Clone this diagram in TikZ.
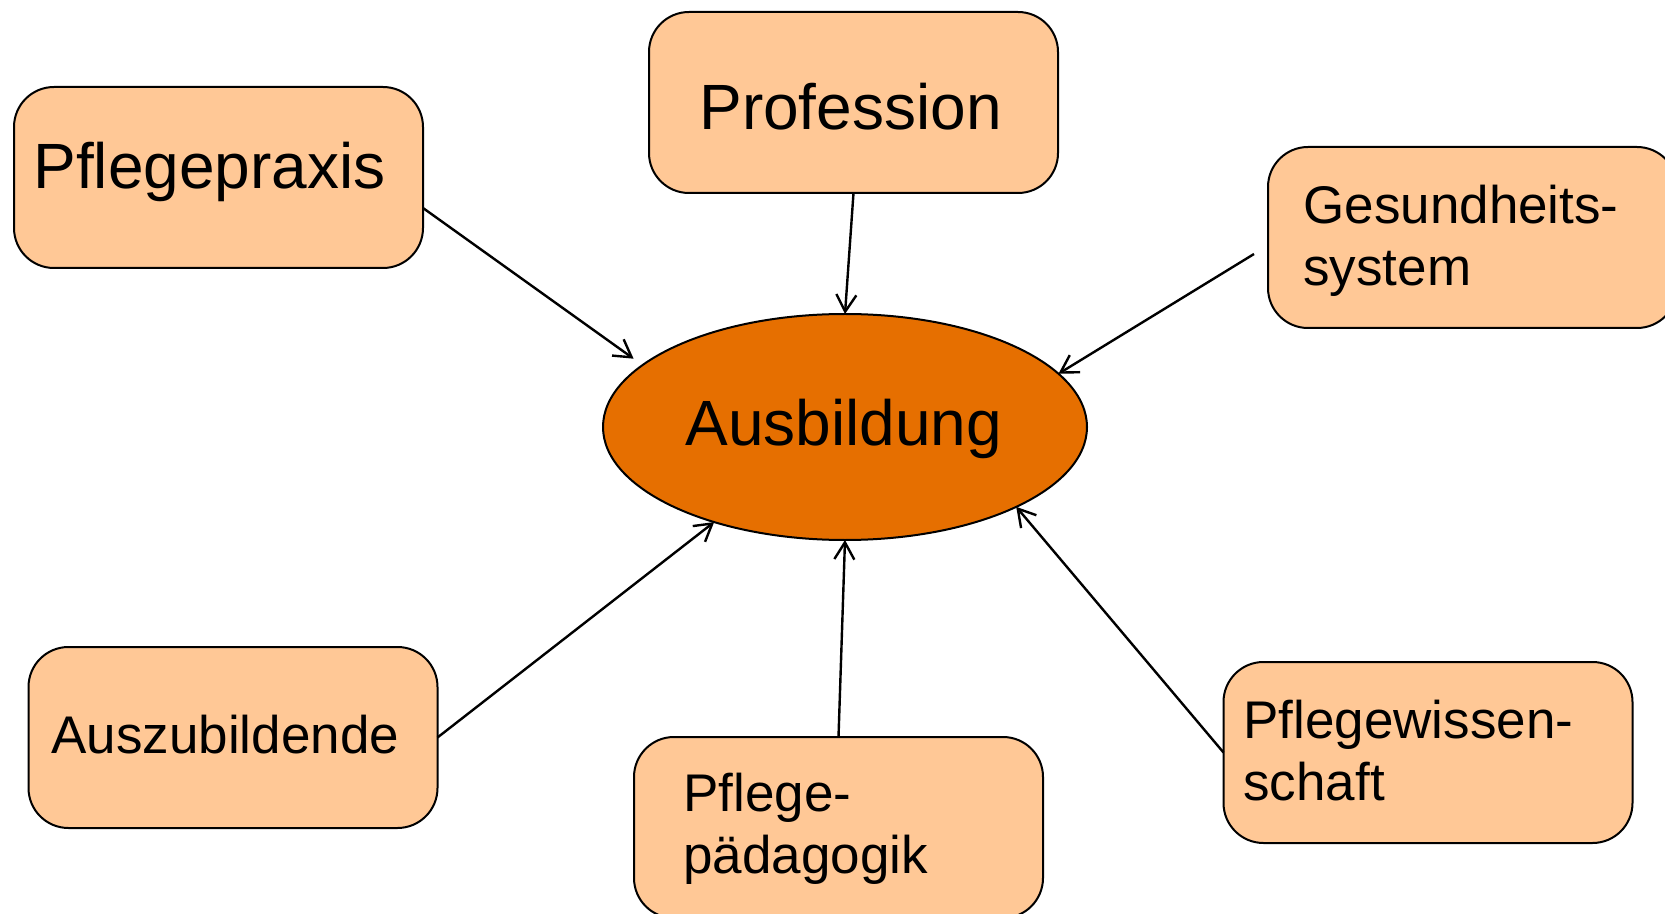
\documentclass[tikz,border=0pt]{standalone}
\usepackage{fontspec}
\setmainfont{Liberation Sans}
\usetikzlibrary{arrows.meta,shapes.geometric,calc}
\definecolor{boxfill}{RGB}{255,200,150}
\definecolor{corefill}{RGB}{230,111,0}
\begin{document}
\begin{tikzpicture}[x=0.5pt,y=-0.5pt,
  topic/.style={draw=black, line width=1pt, fill=boxfill, rounded corners=20pt,
    minimum width=204.5pt, minimum height=90.5pt, inner sep=0pt, outer sep=0pt},
  core/.style={ellipse, draw=black, line width=1pt, fill=corefill,
    minimum width=242pt, minimum height=113pt, inner sep=0pt, outer sep=0pt},
  bigtext/.style={anchor=base west, inner sep=0pt, font=\fontsize{32}{38}\selectfont},
  smalltext/.style={anchor=base west, inner sep=0pt, font=\fontsize{26.5}{31}\selectfont},
  feed/.style={-{Straight Barb[length=8.5pt,width=10pt]}, line width=1.2pt, black}]
\useasboundingbox (0,0) rectangle (1665,914);

% central topic
\node[core] (aus) at (845,427) {};
\node[bigtext] (aus-t) at (685,445) {Ausbildung};

% surrounding topics
\node[topic] (praxis) at (218.5,177.5) {};
\node[bigtext] (praxis-t) at (33,189) {Pflegepraxis};

\node[topic] (prof) at (853.5,102.5) {};
\node[bigtext] (prof-t) at (699,130) {Profession};

\node[topic] (ges) at (1472.5,237.5) {};
\node[smalltext] (ges-t) at (1303,224)
  {\begin{tabular}[t]{@{}l@{}}Gesundheits-\\system\end{tabular}};

\node[topic] (ausz) at (233,737.5) {};
\node[smalltext] (ausz-t) at (51,753) {Auszubildende};

\node[topic] (paed) at (838.5,827.5) {};
\node[smalltext] (paed-t) at (683,811)
  {\begin{tabular}[t]{@{}l@{}}Pflege-\\pädagogik\end{tabular}};

\node[topic] (wiss) at (1428,752.5) {};
\node[smalltext] (wiss-t) at (1243,738)
  {\begin{tabular}[t]{@{}l@{}}Pflegewissen-\\schaft\end{tabular}};

% influences on the training
\draw[feed, shorten >=5.5pt] ($(praxis.east)+(0,30.5)$) -- (aus.163);
\draw[feed] (prof.south) -- (aus.90);
\draw[feed] ($(ges.west)+(-14,16.5)$) -- (aus.14);
\draw[feed] (ausz.east) -- (aus.216);
\draw[feed] (paed.north) -- (aus.270);
\draw[feed] (wiss.west) -- (aus.335);
\end{tikzpicture}
\end{document}
